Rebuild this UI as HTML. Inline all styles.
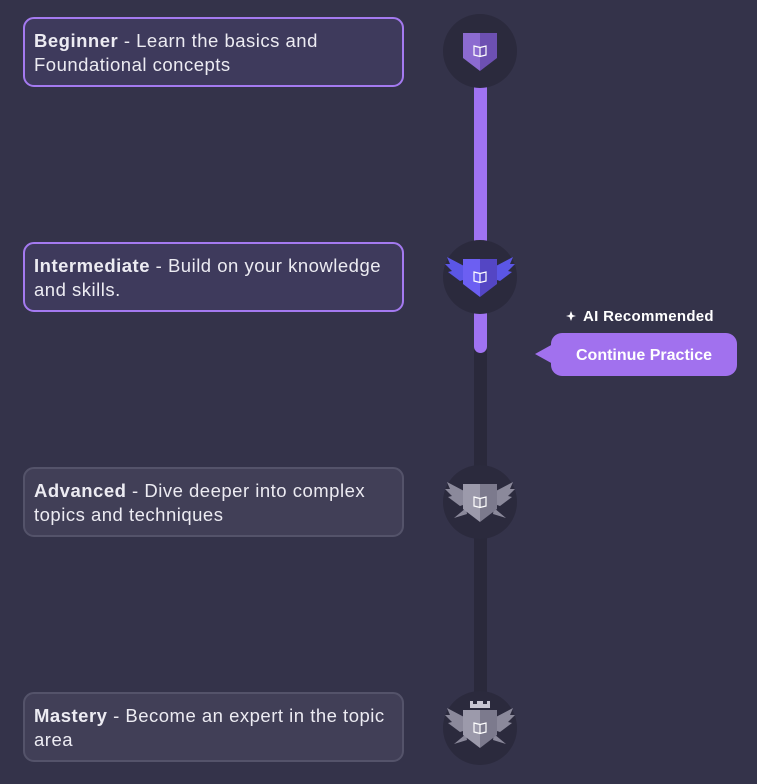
<!DOCTYPE html>
<html><head><style>
body{margin:0;width:757px;height:784px;background:#34334a;font-family:"Liberation Sans",sans-serif;position:relative;overflow:hidden}
.card{position:absolute;left:23px;width:376px;height:66px;border-radius:11px;box-sizing:border-box;padding:10px 0 0 9px;color:#ecebf2;font-size:18.5px;letter-spacing:0.5px;line-height:24px}
.card b{font-weight:bold}
.a{border:2px solid #a47af0;background:#3e3a5c}
.g{border:2px solid #54536a;background:#413f57}
</style></head><body>
<svg width="757" height="784" style="position:absolute;left:0;top:0">
<rect x="474" y="330" width="13" height="370" fill="#2a293b"/>
<rect x="474" y="80" width="13" height="170" fill="#a073f2"/>
<rect x="474" y="300" width="13" height="53" rx="6.5" fill="#a073f2"/>
<circle cx="480" cy="51" r="37" fill="#2b2a3d"/>
<circle cx="480" cy="277" r="37" fill="#2b2a3d"/>
<circle cx="480" cy="502" r="37" fill="#2b2a3d"/>
<circle cx="480" cy="728" r="37" fill="#2b2a3d"/>
<defs>
<g id="book"><path d="M-6,-5 L0,-3.5 L6,-5 L6,4 L0,5.5 L-6,4 Z M0,-3.5 L0,5.5" fill="none" stroke="#fff" stroke-width="1.2"/></g>
<g id="wings"><path d="M-14,-10 L-33,-20 L-30,-13 L-35,-13 L-28,-6 L-32,-5 L-20,4 L-14,2 Z"/><path d="M14,-10 L33,-20 L30,-13 L35,-13 L28,-6 L32,-5 L20,4 L14,2 Z"/></g>
<g id="spikes"><path d="M-14,6 L-26,16 L-13,12 Z"/><path d="M14,6 L26,16 L13,12 Z"/></g>
</defs>
<g transform="translate(480,51)">
<path d="M-17,-18 L0,-18 L0,20 L-17,7 Z" fill="#8c6bd0"/><path d="M0,-18 L17,-18 L17,7 L0,20 Z" fill="#6d50b2"/>
<use href="#book"/></g>
<g transform="translate(480,277)">
<g fill="#5b56e6"><use href="#wings"/></g>
<path d="M-17,-18 L0,-18 L0,20 L-17,7 Z" fill="#6c5ff2"/><path d="M0,-18 L17,-18 L17,7 L0,20 Z" fill="#5446c4"/>
<use href="#book"/></g>
<g transform="translate(480,502)">
<g fill="#8b899b"><use href="#wings"/><use href="#spikes"/></g>
<path d="M-17,-18 L0,-18 L0,20 L-17,7 Z" fill="#9c9aab"/><path d="M0,-18 L17,-18 L17,7 L0,20 Z" fill="#7c7a8d"/>
<use href="#book"/></g>
<g transform="translate(480,728)">
<g fill="#8b899b"><use href="#wings"/><use href="#spikes"/></g>
<path d="M-10,-27 L-10,-20 L10,-20 L10,-27 L7,-27 L7,-24 L3,-24 L3,-27 L-3,-27 L-3,-24 L-7,-24 L-7,-27 Z" fill="#c8c6d2"/>
<path d="M-17,-18 L0,-18 L0,20 L-17,7 Z" fill="#9c9aab"/><path d="M0,-18 L17,-18 L17,7 L0,20 Z" fill="#7c7a8d"/>
<use href="#book"/></g>
<path d="M535,354 L553,344 L553,364 Z" fill="#a171ee"/>
<rect x="551" y="333" width="186" height="43" rx="11" fill="#a171ee"/>
<text x="644" y="360" text-anchor="middle" fill="#fff" font-size="16" font-weight="bold" font-family="Liberation Sans,sans-serif">Continue Practice</text>
<path d="M571,311 L572.5,315 L576,316 L572.5,317 L571,321 L569.5,317 L566,316 L569.5,315 Z" fill="#fff"/>
<text x="583" y="321" fill="#fff" font-size="15" font-weight="bold" letter-spacing="0.3" font-family="Liberation Sans,sans-serif">AI Recommended</text>
</svg>
<div class="card a" style="top:17px;width:381px;height:70px"><b>Beginner</b> - Learn the basics and<br>Foundational concepts</div>
<div class="card a" style="top:242px;width:381px;height:70px"><b>Intermediate</b> - Build on your knowledge<br>and skills.</div>
<div class="card g" style="top:467px;width:381px;height:70px"><b>Advanced</b> - Dive deeper into complex<br>topics and techniques</div>
<div class="card g" style="top:692px;width:381px;height:70px"><b>Mastery</b> - Become an expert in the topic<br>area</div>
</body></html>
